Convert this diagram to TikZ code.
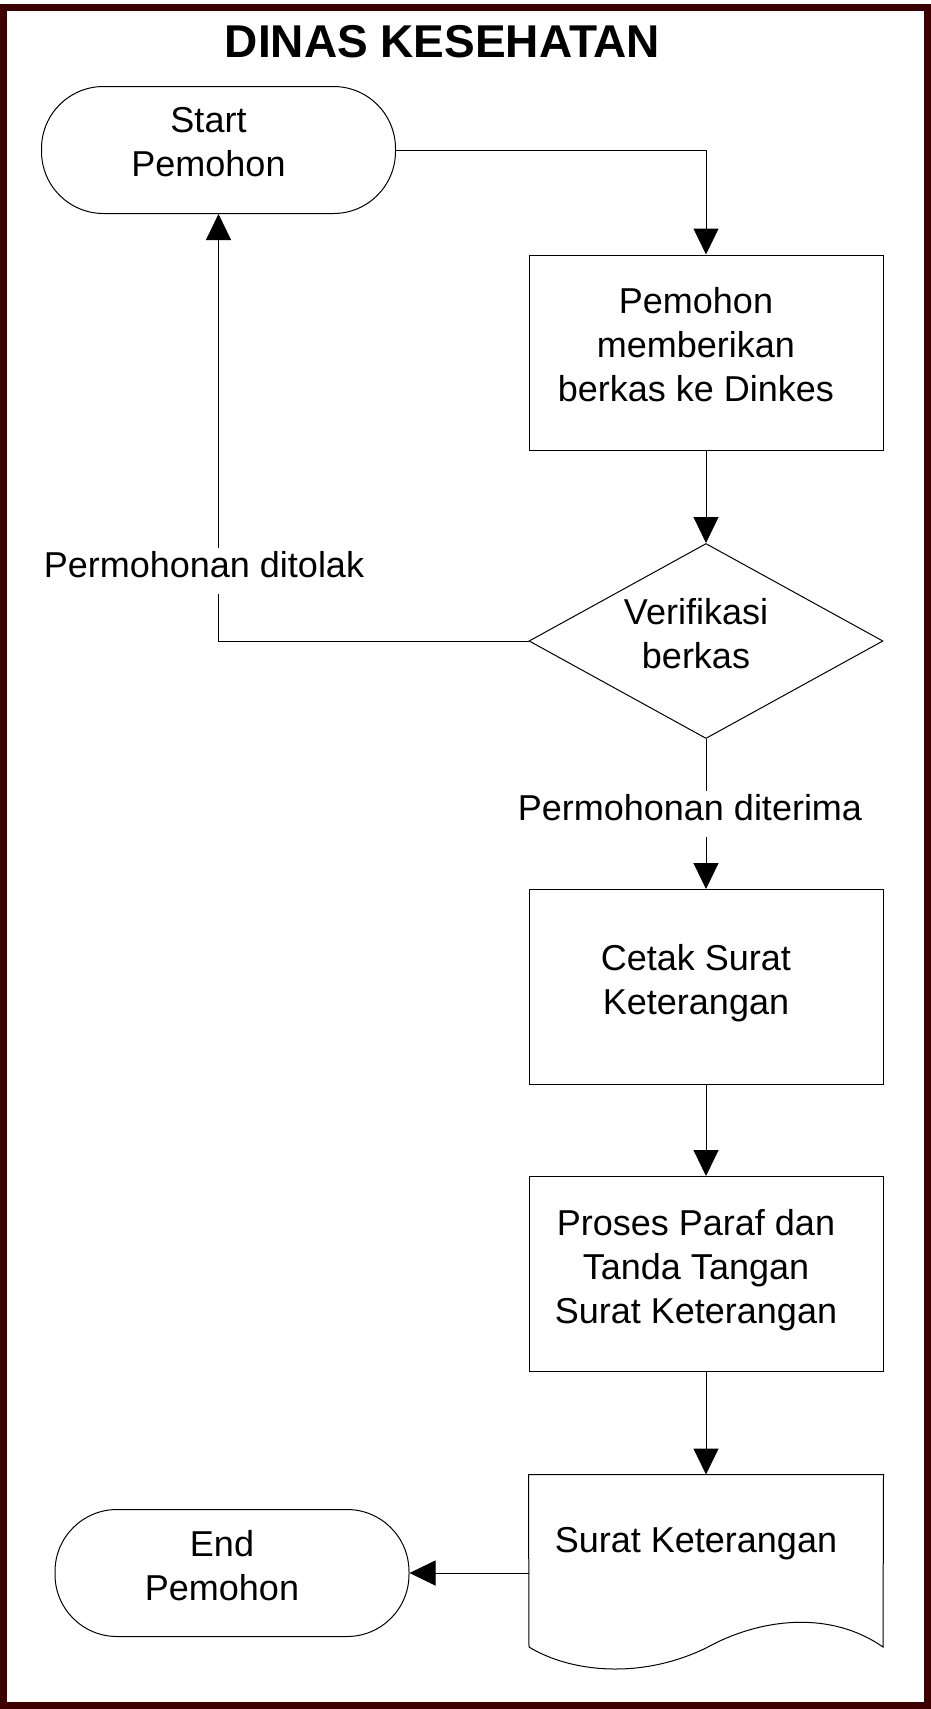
\documentclass[tikz,border=0pt]{standalone}
\usepackage{fontspec}
\setmainfont{Liberation Sans}
\usetikzlibrary{positioning}
\usetikzlibrary{shapes.geometric}
\usetikzlibrary{arrows.meta}
\definecolor{bingkai}{RGB}{60,0,0}
\newcommand{\akhir}{\vrule width 0pt height 0pt depth 16pt}

\begin{document}
\begin{tikzpicture}[x=1pt,y=-1pt,line width=1pt,
 teks/.style={text width=334pt,align=center,execute at begin node={\fontsize{36}{44}\selectfont\centering\rightskip=20pt plus 1fil\spaceskip=0pt\xspaceskip=0pt}},
 term/.style={teks,draw,rectangle,rounded corners=62pt,minimum width=354pt,minimum height=127pt,inner sep=0pt},
 proses/.style={teks,draw,rectangle,minimum width=354pt,minimum height=195pt,inner sep=0pt},
 keputusan/.style={teks,text width=170pt,draw,diamond,aspect=1.8,minimum width=354pt,minimum height=195pt,inner sep=0pt},
 dokumen/.style={teks,rectangle,minimum width=354pt,minimum height=172pt,inner sep=0pt,text height=26pt,text depth=44pt},
 ket/.style={font=\fontsize{36}{44}\selectfont,fill=white,inner xsep=2pt,inner ysep=0pt,text height=29pt,text depth=17pt},
 panah/.style={-{Triangle[length=26pt,width=25pt]}}]
 \fill[white](0,0) rectangle (931,1709);
 \useasboundingbox (0,0) rectangle (931,1709);
 \draw[bingkai,line width=7pt](3.5,7) rectangle (927.5,1705.5);
 \node[font=\fontsize{46}{54}\selectfont\bfseries,anchor=base] (judul) at (442.5,57) {DINAS KESEHATAN};
 \node[term] (start) at (218.5,150) {Start\\Pemohon\akhir};
 \node[proses] (berkas) at (706,352.5) {Pemohon\\memberikan\\berkas ke Dinkes\akhir};
 \node[keputusan] (verif) at (706,641) {Verifikasi\\berkas\akhir};
 \node[proses] (cetak) at (706,987) {Cetak Surat\\Keterangan\akhir};
 \node[proses] (paraf) at (706,1274) {Proses Paraf dan\\Tanda Tangan\\Surat Keterangan\akhir};
 \node[dokumen] (surat) at (706,1561) {Surat Keterangan};
 \node[term] (end) at (232,1573) {End\\Pemohon\akhir};
 \draw (surat.north west) -- (surat.north east) -- (883,1647) .. controls (830,1610) and (760,1618) .. (706,1648) .. controls (640,1680) and (570,1672) .. (529,1647) -- cycle;
 \draw[panah](start.east) -| (berkas.north);
 \draw[panah](berkas) -- (verif);
 \draw[panah](verif.west) -| (start.south);
 \draw[panah](verif) -- (cetak);
 \draw[panah](cetak) -- (paraf);
 \draw[panah](paraf) -- (surat);
 \draw[panah](surat.west |- end.east) -- (end.east);
 \node[ket,anchor=base] (tolak) at (204,577) {Permohonan ditolak};
 \node[ket,anchor=base] (terima) at (690,820) {Permohonan diterima};
\end{tikzpicture}
\end{document}
